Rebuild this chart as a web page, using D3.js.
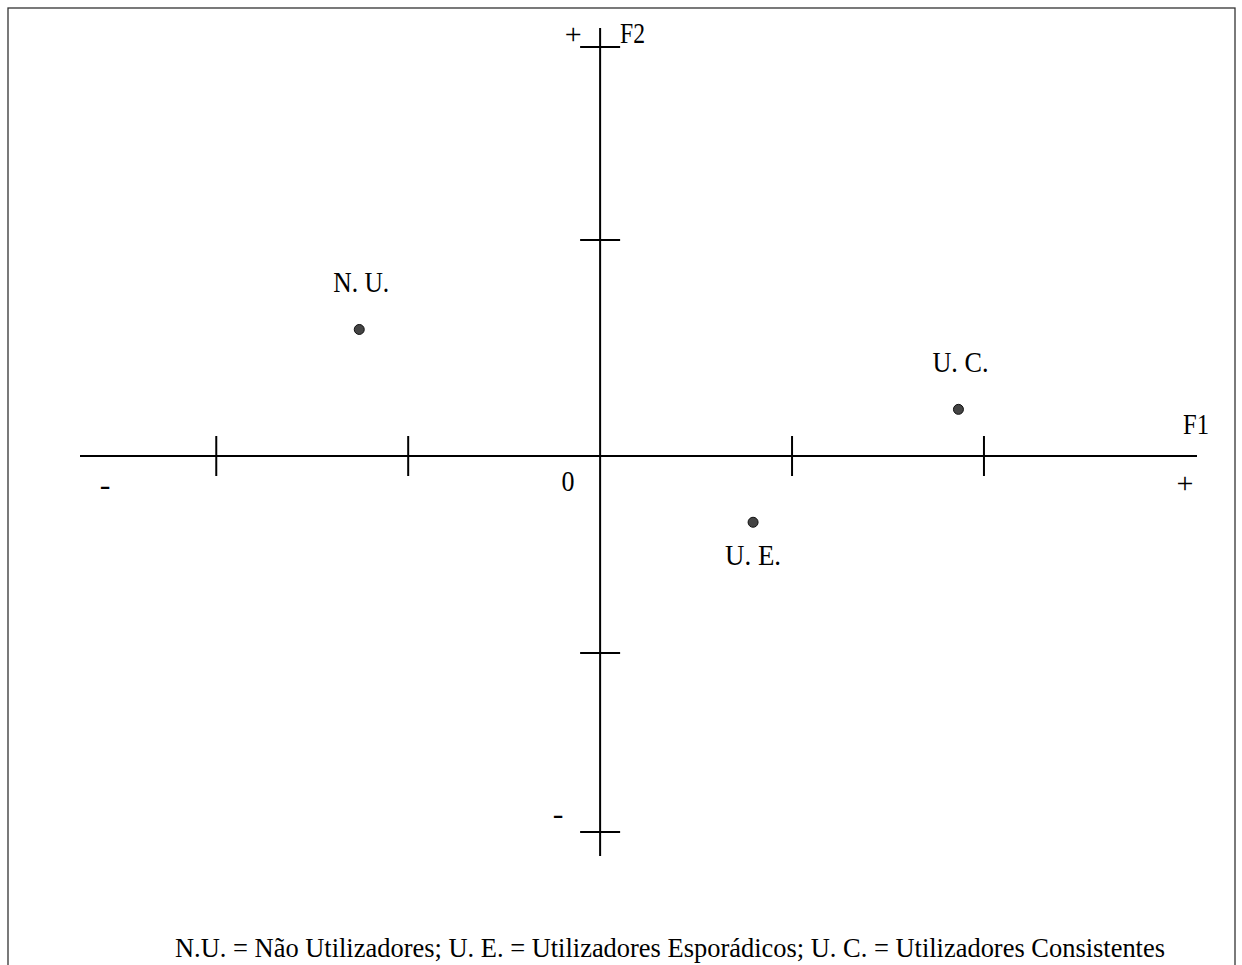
<!DOCTYPE html>
<html>
<head>
<meta charset="utf-8">
<script src="https://cdn.jsdelivr.net/npm/d3@7"></script>
<style>
  html, body { margin: 0; padding: 0; background: #fff; }
  svg { display: block; }
  text { font-family: "Liberation Serif", "Times New Roman", serif; fill: #000; }
</style>
</head>
<body>
<svg id="chart" width="1242" height="965"></svg>
<script>
// ---- data ----
const categories = ["N. U.", "U. E.", "U. C."];
const f1Values = [-1.255, 0.797, 1.867];
const f2Values = [0.659, -0.345, 0.243];
const labelSide = ["above", "below", "above"];
const xTickValues = [-2, -1, 1, 2];
const yTickValues = [2.13, 1.125, -1.026, -1.958];
const xDomain = [-2.71, 3.11];
const yDomain = [-2.083, 2.229];
const axisNames = ["F1", "F2"];
const footnote = "N.U. = Não Utilizadores; U. E. = Utilizadores Esporádicos; U. C. = Utilizadores Consistentes";

// ---- layout ----
const svg = d3.select("#chart");
const x = d3.scaleLinear().domain(xDomain).range([80, 1197]);
const y = d3.scaleLinear().domain(yDomain).range([856, 28]);
const x0 = x(0), y0 = y(0);
const tickHalf = 20;

// frame
svg.append("rect")
  .attr("x", 8).attr("y", 8).attr("width", 1227).attr("height", 980)
  .attr("fill", "none").attr("stroke", "#333").attr("stroke-width", 1.3);

// axes lines
svg.append("line")
  .attr("x1", x(xDomain[0])).attr("x2", x(xDomain[1]))
  .attr("y1", y0).attr("y2", y0)
  .attr("stroke", "#000").attr("stroke-width", 2);
svg.append("line")
  .attr("x1", x0).attr("x2", x0)
  .attr("y1", y(yDomain[1])).attr("y2", y(yDomain[0]))
  .attr("stroke", "#000").attr("stroke-width", 2);

// ticks
svg.selectAll("line.xt").data(xTickValues).join("line")
  .attr("class", "xt")
  .attr("x1", d => x(d)).attr("x2", d => x(d))
  .attr("y1", y0 - tickHalf).attr("y2", y0 + tickHalf)
  .attr("stroke", "#000").attr("stroke-width", 2);
svg.selectAll("line.yt").data(yTickValues).join("line")
  .attr("class", "yt")
  .attr("y1", d => y(d)).attr("y2", d => y(d))
  .attr("x1", x0 - tickHalf).attr("x2", x0 + tickHalf)
  .attr("stroke", "#000").attr("stroke-width", 2);

function addText(str, tx, ty, anchor, size, len) {
  const t = svg.append("text")
    .attr("x", tx).attr("y", ty)
    .attr("text-anchor", anchor || "start")
    .attr("font-size", size || 30)
    .text(str);
  if (len) t.attr("textLength", len).attr("lengthAdjust", "spacingAndGlyphs");
  return t;
}

// axis signs and names
addText("+", x0 - 27, y(yDomain[1]) + 16, "middle", 30);
addText(axisNames[1], x0 + 20, y(yDomain[1]) + 15, "start", 29, 25);
addText(axisNames[0], x(xDomain[1]) - 14, y0 - 22, "start", 29, 26);
addText("+", x(xDomain[1]) - 12, y0 + 37, "middle", 30);
addText("-", x(xDomain[0]) + 25, y0 + 39, "middle", 32);
addText("-", x0 - 42, y(yDomain[0]) - 32, "middle", 32);
addText("0", x0 - 32, y0 + 35, "middle", 29, 13);

// points
const pts = categories.map((c, i) => ({ name: c, f1: f1Values[i], f2: f2Values[i], side: labelSide[i] }));
svg.selectAll("circle.pt").data(pts).join("circle")
  .attr("class", "pt")
  .attr("cx", d => x(d.f1)).attr("cy", d => y(d.f2))
  .attr("r", 5)
  .attr("fill", "#444").attr("stroke", "#111").attr("stroke-width", 1);

svg.selectAll("text.pl").data(pts).join("text")
  .attr("class", "pl")
  .attr("x", d => x(d.f1) + (d.side === "above" ? 2 : 0))
  .attr("y", d => y(d.f2) + (d.side === "above" ? -37 : 43))
  .attr("text-anchor", "middle")
  .attr("font-size", 29)
  .attr("textLength", 56)
  .attr("lengthAdjust", "spacingAndGlyphs")
  .text(d => d.name);

// footnote
addText(footnote, 175, 957, "start", 27, 990);
</script>
</body>
</html>
